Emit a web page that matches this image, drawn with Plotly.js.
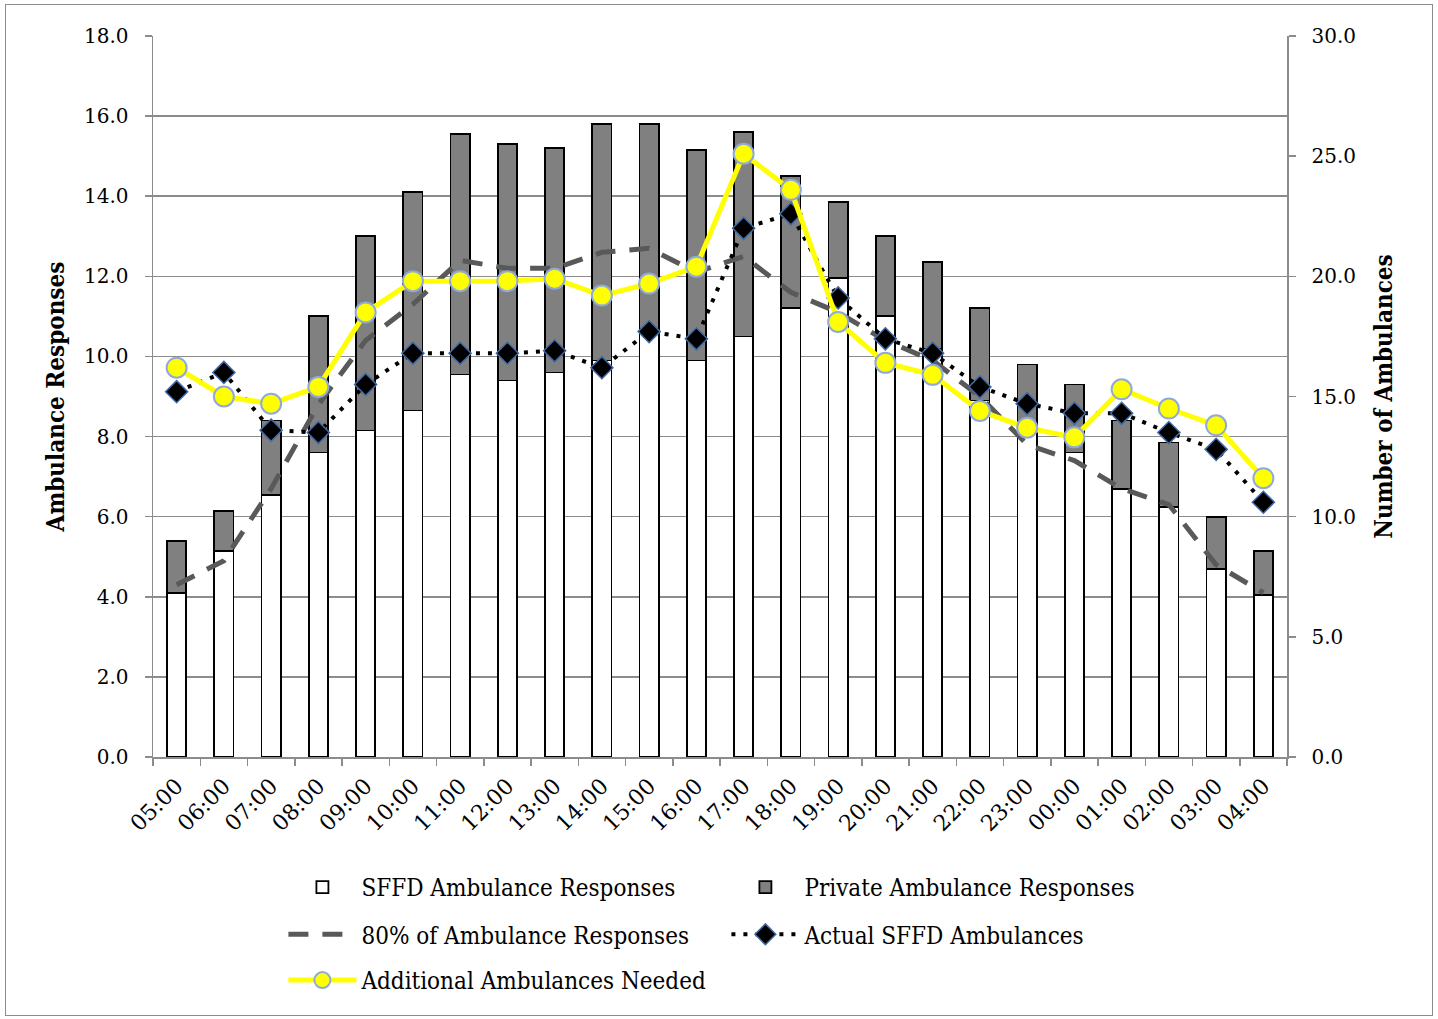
<!DOCTYPE html>
<html>
<head>
<meta charset="utf-8">
<script src="https://cdn.plot.ly/plotly-3.0.1.min.js"></script>
<style>
html,body{margin:0;padding:0;background:#fff;}
#chart{position:absolute;left:5px;top:4px;width:1426px;height:1010px;border:1px solid #8c8c8c;}
</style>
</head>
<body>
<div id="chart"></div>
<script>
// Hours of the day (categories)
const hours = ['05:00','06:00','07:00','08:00','09:00','10:00','11:00','12:00','13:00','14:00','15:00','16:00',
               '17:00','18:00','19:00','20:00','21:00','22:00','23:00','00:00','01:00','02:00','03:00','04:00'];

// Left axis: Ambulance Responses
const sffdResponses    = [4.1,5.15,6.55,7.6,8.15,8.65,9.55,9.4,9.6,9.9,10.7,9.9,10.5,11.2,11.95,11.0,10.2,8.9,8.1,7.6,6.7,6.25,4.7,4.05];
const privateResponses = [1.3,1.0,1.85,3.4,4.85,5.45,6.0,5.9,5.6,5.9,5.1,5.25,5.1,3.3,1.9,2.0,2.15,2.3,1.7,1.7,1.7,1.6,1.3,1.1];
const pct80Responses   = [4.3,4.9,6.7,8.8,10.4,11.3,12.4,12.2,12.2,12.6,12.7,12.1,12.5,11.6,11.1,10.4,9.9,9.0,7.8,7.4,6.7,6.3,4.8,4.1];

// Right axis: Number of Ambulances
const actualSffd = [15.2,16.0,13.6,13.5,15.5,16.8,16.8,16.8,16.9,16.2,17.7,17.4,22.0,22.6,19.1,17.4,16.8,15.4,14.7,14.3,14.3,13.5,12.8,10.6];
const additionalNeeded = [16.2,15.0,14.7,15.4,18.5,19.8,19.8,19.8,19.9,19.2,19.7,20.4,25.1,23.6,18.1,16.4,15.9,14.4,13.7,13.3,15.3,14.5,13.8,11.6];

const tickFont = {family:'DejaVu Serif, Liberation Serif, serif', size:20, color:'#000'};
const xTickFont = {family:'DejaVu Serif, Liberation Serif, serif', size:22, color:'#000'};
const legFont = {family:'DejaVu Serif Condensed, Liberation Serif, serif', size:24, color:'#000'};
const titleFont = {family:'DejaVu Serif Condensed, Liberation Serif, serif', size:24, color:'#000', weight:'bold'};

const traces = [
  {type:'bar', name:'SFFD Ambulance Responses', x:hours, y:sffdResponses, yaxis:'y',
   marker:{color:'#ffffff', line:{color:'#000', width:1.8}}, legend:'legend'},
  {type:'bar', name:'Private Ambulance Responses', x:hours, y:privateResponses, yaxis:'y',
   marker:{color:'#808080', line:{color:'#000', width:1.8}}, legend:'legend'},
  {type:'scatter', mode:'lines', name:'80% of Ambulance Responses', x:hours, y:pct80Responses, yaxis:'y',
   line:{color:'#595959', width:5, dash:'20px,14px'}, legend:'legend2'},
  {type:'scatter', mode:'lines+markers', name:'Actual SFFD Ambulances', x:hours, y:actualSffd, yaxis:'y2',
   line:{color:'#000', width:4, dash:'4px,8px'},
   marker:{symbol:'diamond', size:17, color:'#000', line:{color:'#3f6aa6', width:1.5}}, legend:'legend2'},
  {type:'scatter', mode:'lines+markers', name:'Additional Ambulances Needed', x:hours, y:additionalNeeded, yaxis:'y2',
   line:{color:'#ffff00', width:5},
   marker:{symbol:'circle', size:20, color:'#ffff00', line:{color:'#8eaadb', width:2}}, legend:'legend3'}
];

const legBase = {orientation:'h', xanchor:'left', yanchor:'middle', x:0.115, font:legFont,
                 itemwidth:68, entrywidth:360, traceorder:'normal', bgcolor:'rgba(0,0,0,0)', itemclick:false};

const layout = {
  width:1426, height:1010,
  margin:{l:147, r:145, t:31, b:253},
  paper_bgcolor:'#fff', plot_bgcolor:'#fff',
  barmode:'stack', bargap:0.59,
  xaxis:{type:'category', range:[-0.5, 23.5], autorange:false, tickangle:-45, tickfont:xTickFont, showline:true,
         linecolor:'#8c8c8c', linewidth:1.5, ticks:'outside', tickson:'boundaries', ticklen:7, tickcolor:'#8c8c8c',
         tickwidth:1.5, ticklabelstandoff:6, showgrid:false},
  yaxis:{range:[0,18], dtick:2, tickformat:'.1f', tickfont:tickFont, showline:true, linecolor:'#8c8c8c', linewidth:1.5,
         ticks:'outside', ticklen:7, tickcolor:'#8c8c8c', tickwidth:1.5, ticklabelstandoff:12,
         showgrid:true, gridcolor:'#8c8c8c', gridwidth:1.5,
         zeroline:false, title:{text:'Ambulance Responses', font:titleFont, standoff:12}},
  yaxis2:{range:[0,30], dtick:5, tickformat:'.1f', tickfont:tickFont, overlaying:'y', side:'right', showline:true,
          linecolor:'#8c8c8c', linewidth:1.5, ticks:'outside', ticklen:7, tickcolor:'#8c8c8c', tickwidth:1.5,
          ticklabelstandoff:12, showgrid:false, zeroline:false,
          title:{text:'Number of Ambulances', font:titleFont, standoff:20}},
  legend: Object.assign({}, legBase, {y:-0.181}),
  legend2: Object.assign({}, legBase, {y:-0.2465}),
  legend3: Object.assign({}, legBase, {y:-0.310}),
  showlegend:true
};

Plotly.newPlot('chart', traces, layout, {displayModeBar:false, staticPlot:true});
</script>
</body>
</html>
